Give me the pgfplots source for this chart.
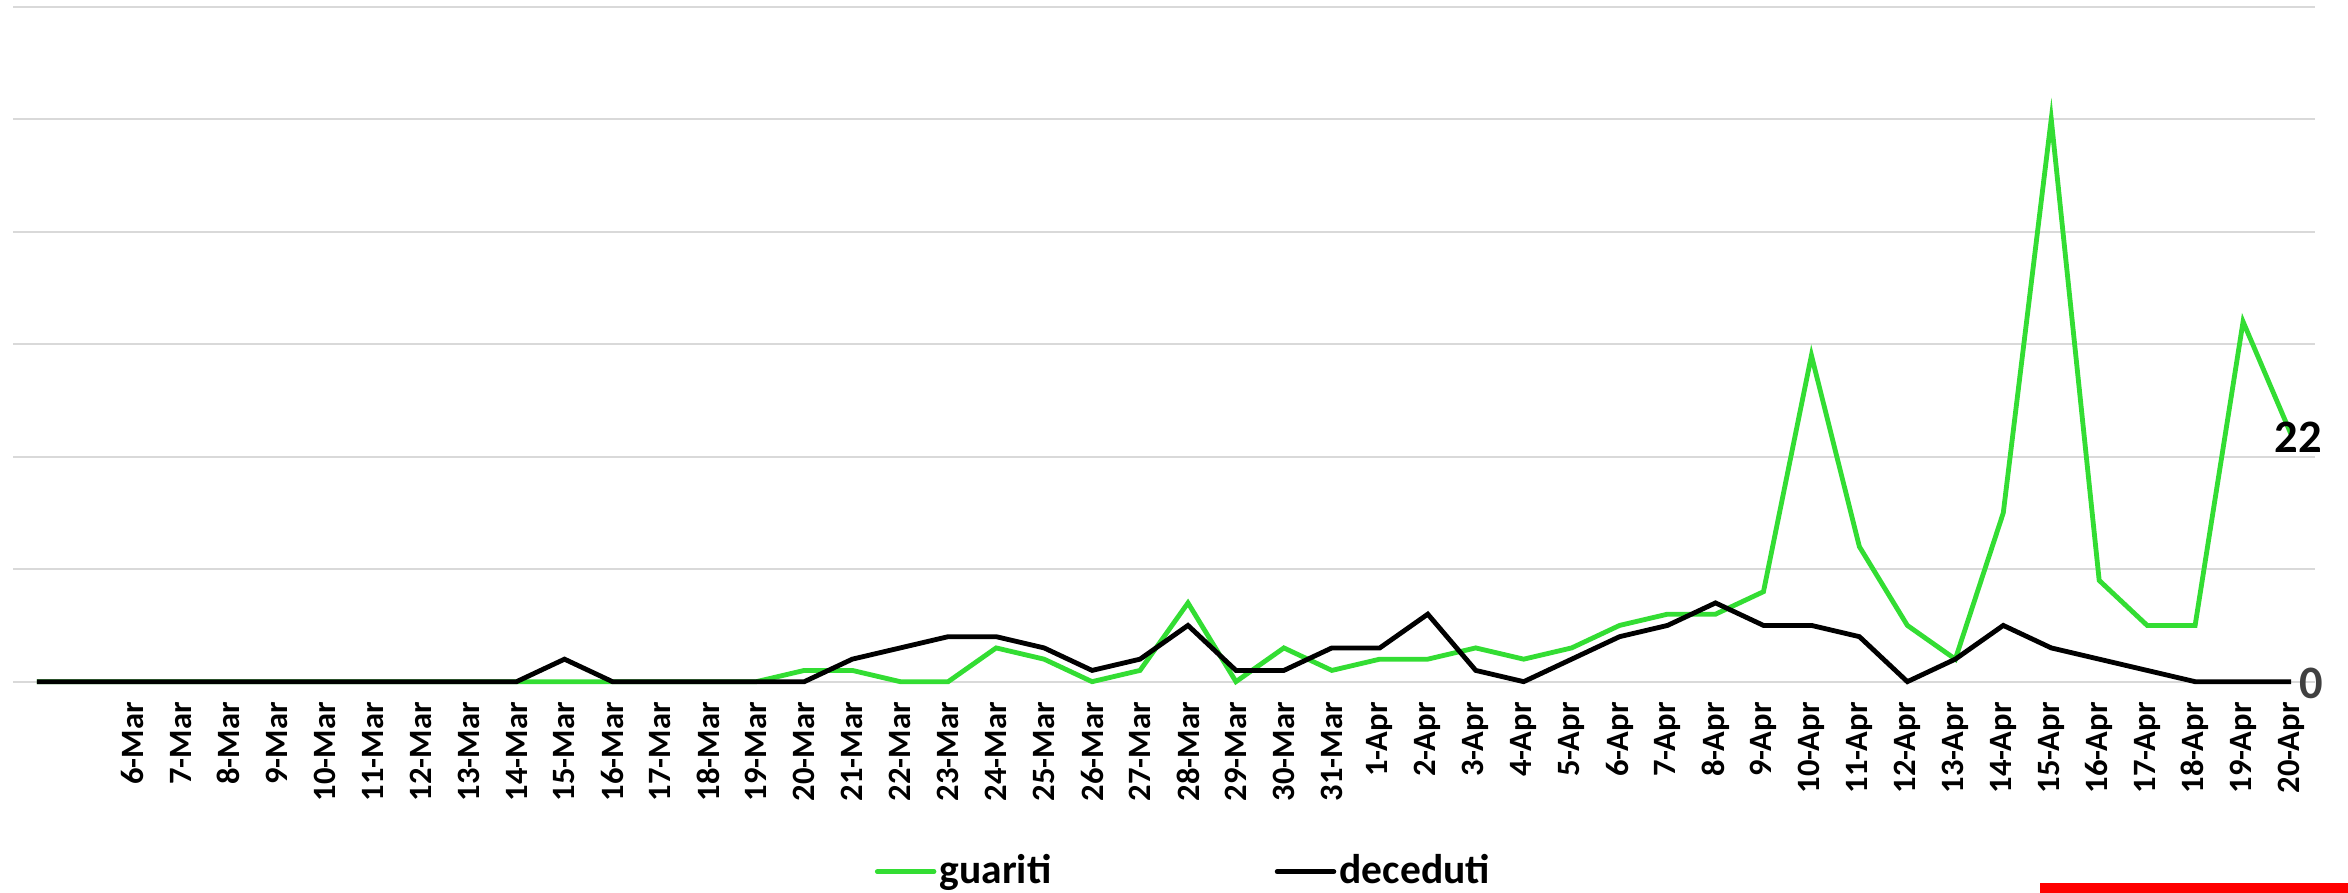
\documentclass[border=0pt]{standalone}
\usepackage{pgfplots}
\pgfplotsset{compat=1.18}
\usepackage{fontspec}
\setmainfont{Carlito}
\definecolor{gline}{RGB}{51,221,51}
\definecolor{gridc}{RGB}{217,217,217}
\definecolor{zerolab}{RGB}{64,64,64}
\begin{document}
\begin{tikzpicture}
\path[use as bounding box] (0,0) rectangle (704.4bp,267.9bp);
\fill[red] (612bp,0) rectangle (704.4bp,3.1bp);
\begin{axis}[
  at={(3.9bp,63.4bp)}, anchor=south west,
  scale only axis, width=690.6bp, height=202.5bp,
  xmin=-2.5, xmax=45.5, ymin=0, ymax=60,
  clip=false,
  axis line style={draw=none},
  major tick length=0pt,
  ytick={0,10,...,60}, yticklabels={},
  ymajorgrids, grid style={color=gridc, line width=0.6bp},
  xtick={0,...,45},
  xticklabels={6-Mar,7-Mar,8-Mar,9-Mar,10-Mar,11-Mar,12-Mar,13-Mar,14-Mar,15-Mar,16-Mar,17-Mar,18-Mar,19-Mar,20-Mar,21-Mar,22-Mar,23-Mar,24-Mar,25-Mar,26-Mar,27-Mar,28-Mar,29-Mar,30-Mar,31-Mar,1-Apr,2-Apr,3-Apr,4-Apr,5-Apr,6-Apr,7-Apr,8-Apr,9-Apr,10-Apr,11-Apr,12-Apr,13-Apr,14-Apr,15-Apr,16-Apr,17-Apr,18-Apr,19-Apr,20-Apr},
  xticklabel style={rotate=90, anchor=east, inner xsep=6bp, inner ysep=0pt, font=\bfseries\fontsize{9.8}{11}\selectfont},
  legend columns=2,
  legend style={draw=none, at={(axis description cs:0.508,0)}, yshift=-57bp, anchor=center,
    font=\bfseries\fontsize{12.5}{14}\selectfont, inner sep=0pt,
    nodes={inner sep=0pt},
    /tikz/every odd column/.append style={column sep=1bp},
    /tikz/every even column/.append style={column sep=67bp}},
  legend image code/.code={\draw[#1, line cap=round] (0bp,0bp) -- (17bp,0bp);},
]
\addplot[color=gline, line width=1.45bp] coordinates {
(-2,0) (-1,0) (0,0) (1,0) (2,0) (3,0) (4,0) (5,0) (6,0) (7,0) (8,0) (9,0) (10,0) (11,0) (12,0) (13,0)
(14,1) (15,1) (16,0) (17,0) (18,3) (19,2) (20,0) (21,1) (22,7) (23,0) (24,3) (25,1)
(26,2) (27,2) (28,3) (29,2) (30,3) (31,5) (32,6) (33,6) (34,8) (35,29) (36,12) (37,5)
(38,2) (39,15) (40,50) (41,9) (42,5) (43,5) (44,32) (45,22)};
\addlegendentry{guariti}
\addplot[color=black, line width=1.45bp] coordinates {
(-2,0) (-1,0) (0,0) (1,0) (2,0) (3,0) (4,0) (5,0) (6,0) (7,0) (8,0) (9,2) (10,0) (11,0) (12,0) (13,0)
(14,0) (15,2) (16,3) (17,4) (18,4) (19,3) (20,1) (21,2) (22,5) (23,1) (24,1) (25,3)
(26,3) (27,6) (28,1) (29,0) (30,2) (31,4) (32,5) (33,7) (34,5) (35,5) (36,4) (37,0)
(38,2) (39,5) (40,3) (41,2) (42,1) (43,0) (44,0) (45,0)};
\addlegendentry{deceduti}
\addplot[draw=none, forget plot, nodes near coords, point meta=explicit symbolic,
  every node near coord/.style={anchor=center, xshift=2.1bp, yshift=-1bp, inner sep=0pt,
    font=\bfseries\fontsize{14}{16}\selectfont, text=black}] coordinates {(45,22) [22]};
\addplot[draw=none, forget plot, nodes near coords, point meta=explicit symbolic,
  every node near coord/.style={anchor=center, xshift=6bp, yshift=-0.4bp, inner sep=0pt,
    font=\bfseries\fontsize{14}{16}\selectfont, text=zerolab}] coordinates {(45,0) [0]};
\end{axis}
\end{tikzpicture}
\end{document}
